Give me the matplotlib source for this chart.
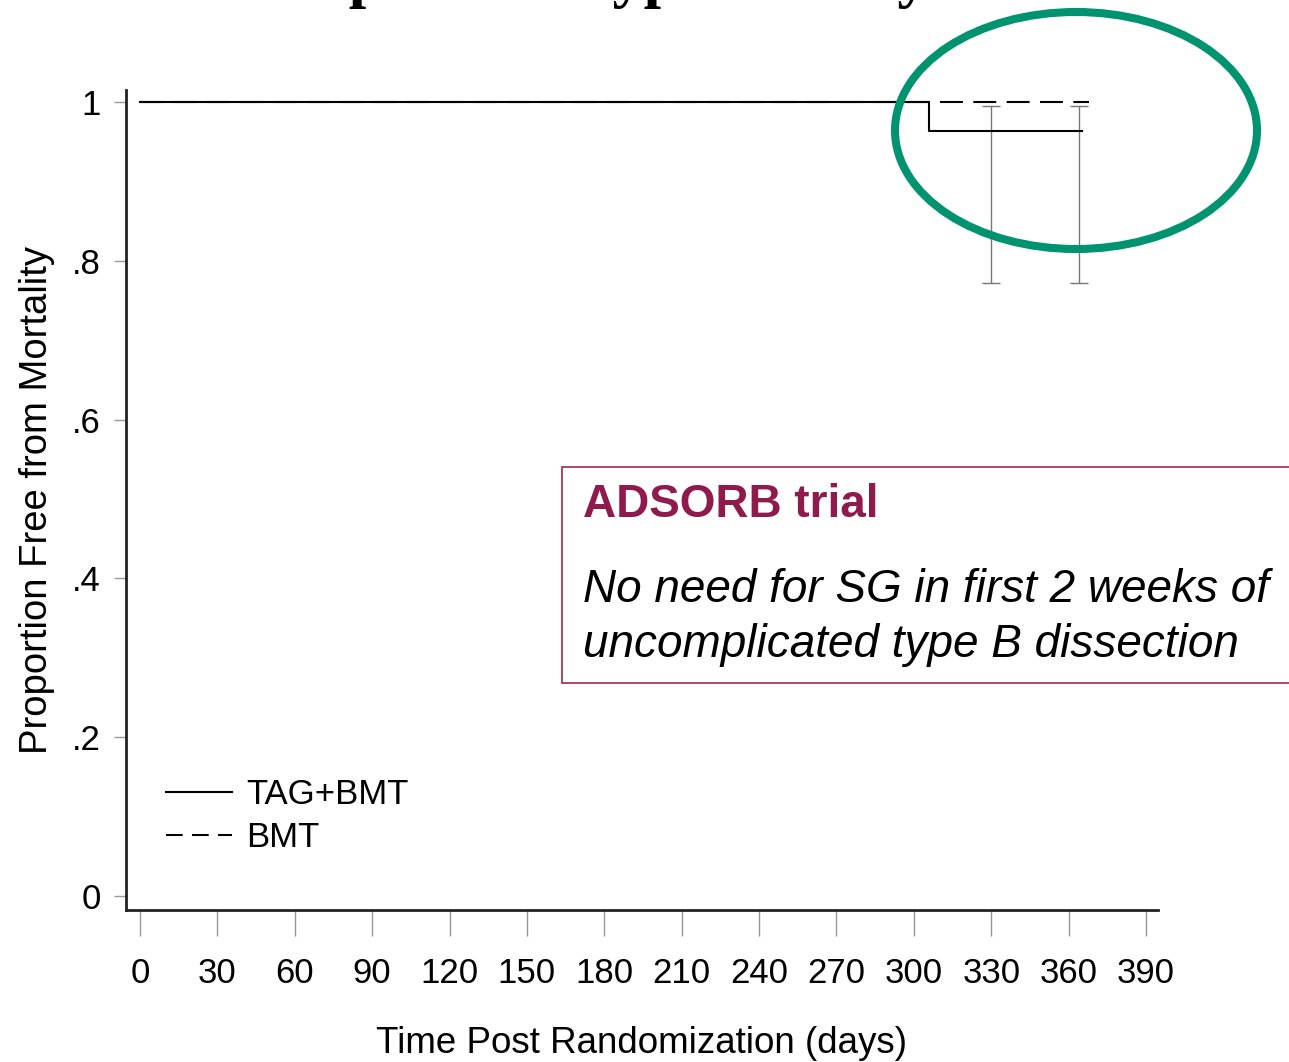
import matplotlib
matplotlib.use("Agg")
import matplotlib.pyplot as plt
from matplotlib.patches import Ellipse, Rectangle
from matplotlib.lines import Line2D

# Kaplan-Meier estimates (days, proportion free from mortality)
tag_days = [0, 306, 365]
tag_surv = [1.0, 0.963, 0.963]
bmt_days = [0, 368]
bmt_surv = [1.0, 1.0]

# Confidence interval bars
ci_days = [330, 364]
ci_low = [0.772, 0.772]
ci_high = [0.995, 0.995]
ci_centre = [0.963, 0.963]

x_ticks = [0, 30, 60, 90, 120, 150, 180, 210, 240, 270, 300, 330, 360, 390]
y_ticks = [0, 0.2, 0.4, 0.6, 0.8, 1.0]
y_tick_labels = ["0", ".2", ".4", ".6", ".8", "1"]
series_names = ["TAG+BMT", "BMT"]

W, H = 1289, 1062
plt.rcParams["font.family"] = ["Liberation Sans", "DejaVu Sans"]

fig = plt.figure(figsize=(W / 100, H / 100), dpi=100)
ax = fig.add_axes([126 / W, 1 - 910 / H, (1158 - 126) / W, (910 - 90) / H])

ax.step(bmt_days, bmt_surv, where="post", color="black", lw=1.5,
        dashes=(11, 5), zorder=2)
ax.step(tag_days, tag_surv, where="post", color="black", lw=1.5, zorder=3)

ax.errorbar(ci_days, ci_centre,
            yerr=[[c - l for c, l in zip(ci_centre, ci_low)],
                  [h - c for c, h in zip(ci_centre, ci_high)]],
            fmt="none", ecolor="#777777", elinewidth=1.0, capsize=6.5,
            capthick=1.0, zorder=1)

ax.set_xlim(-5.43, 394.65)
ax.set_ylim(-0.0176, 1.0151)
ax.set_xticks(x_ticks)
ax.set_xticklabels([str(t) for t in x_ticks])
ax.set_yticks(y_ticks)
ax.set_yticklabels(y_tick_labels)

for side in ("top", "right"):
    ax.spines[side].set_visible(False)
for side in ("left", "bottom"):
    ax.spines[side].set_linewidth(2.0)
    ax.spines[side].set_color("#222222")

ax.tick_params(axis="x", direction="out", length=19, width=1.0,
               color="#999999", labelsize=25, pad=15)
ax.tick_params(axis="y", direction="out", length=9, width=1.0,
               color="#999999", labelsize=25, pad=9)

ax.set_xlabel("Time Post Randomization (days)", fontsize=26.5, labelpad=26)
ax.set_ylabel("Proportion Free from Mortality", fontsize=27.5, labelpad=12)

handles = [Line2D([], [], color="black", lw=1.5),
           Line2D([], [], color="black", lw=1.5, dashes=(8, 4.5))]
fig.legend(handles, series_names, loc="upper left",
           bbox_to_anchor=(166 / W, 1 - 778 / H), frameon=False,
           fontsize=25, handlelength=1.9, handletextpad=0.42,
           labelspacing=0.3, borderpad=0, borderaxespad=0)

# Callout box
fig.patches.append(Rectangle((562 / W, 1 - 683 / H), 760 / W, 216 / H,
                             transform=fig.transFigure, facecolor="white",
                             edgecolor="#9B2C48", lw=1.2, zorder=5))
fig.text(583 / W, 1 - 505 / H, "ADSORB trial", fontsize=33,
         fontweight="bold", color="#8E1B4B", va="center", ha="left", zorder=6)
fig.text(583 / W, 1 - 590 / H, "No need for SG in first 2 weeks of",
         fontsize=33, style="italic", color="black", va="center", ha="left",
         zorder=6)
fig.text(583 / W, 1 - 645 / H, "uncomplicated type B dissection",
         fontsize=33, style="italic", color="black", va="center", ha="left",
         zorder=6)

# Highlight around the late divergence
fig.patches.append(Ellipse((1076 / W, 1 - 130.5 / H), 362 / W, 237 / H,
                           transform=fig.transFigure, fill=False,
                           edgecolor="#00936F", lw=5.8, zorder=7))

# Slide heading running off the top edge
fig.text(158 / W, 1 + 5 / H, "Uncomplicated Type B Early TEVAR",
         fontsize=45, fontweight="bold", family="Liberation Serif",
         va="baseline", ha="left")

fig.savefig("out.png", dpi=100)
